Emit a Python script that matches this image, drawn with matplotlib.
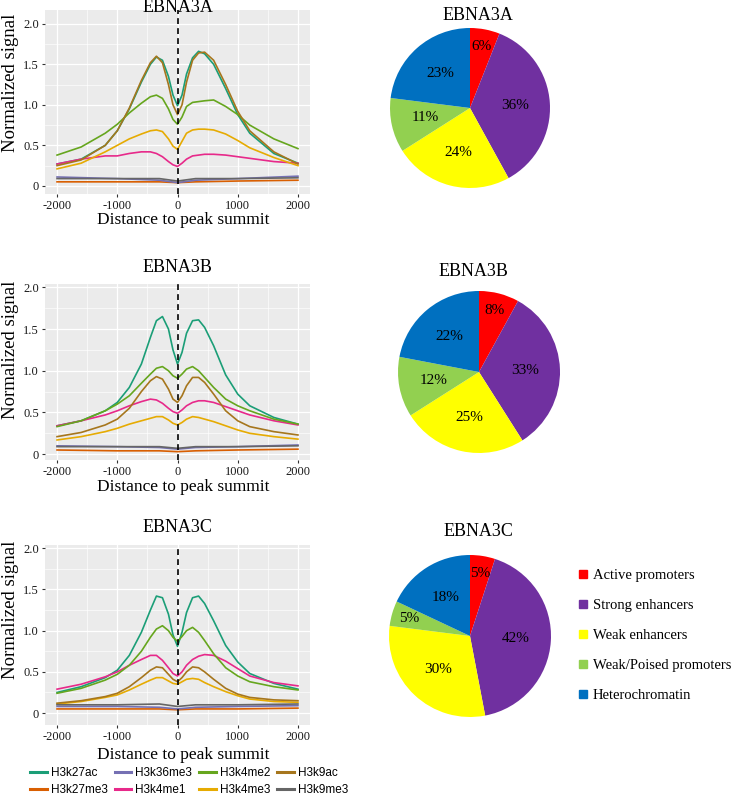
import math
import matplotlib
matplotlib.use("Agg")
import matplotlib.pyplot as plt
from matplotlib.lines import Line2D

W, H = 733, 801
SERIF = "Liberation Serif"
SANS = "Liberation Sans"

# ---- line profiles ----
x = [-2000, -1600, -1200, -1000, -800, -600, -450, -350, -250, -150, -75, 0,
     75, 150, 250, 350, 450, 600, 800, 1000, 1200, 1600, 2000]
x_flat = [-2000, -1000, -300, 0, 300, 1000, 2000]

marks = ["H3k27ac", "H3k27me3", "H3k36me3", "H3k4me1",
         "H3k4me2", "H3k4me3", "H3k9ac", "H3k9me3"]
mark_colors = ["#1B9E77", "#D95F02", "#7570B3", "#E7298A",
               "#66A61E", "#E6AB02", "#A6761D", "#666666"]

# EBNA3A
a_k27ac = [0.27, 0.33, 0.50, 0.68, 0.95, 1.28, 1.50, 1.59, 1.55, 1.35, 1.12, 0.99,
           1.12, 1.38, 1.58, 1.66, 1.63, 1.50, 1.20, 0.88, 0.65, 0.40, 0.28]
a_k9ac = [0.25, 0.32, 0.50, 0.68, 0.96, 1.30, 1.52, 1.60, 1.52, 1.25, 1.00, 0.88,
          1.00, 1.28, 1.55, 1.64, 1.65, 1.55, 1.25, 0.92, 0.68, 0.42, 0.27]
a_k4me2 = [0.38, 0.48, 0.65, 0.76, 0.90, 1.02, 1.10, 1.12, 1.08, 0.95, 0.82, 0.76,
           0.85, 0.98, 1.03, 1.04, 1.05, 1.06, 0.98, 0.88, 0.75, 0.58, 0.46]
a_k4me3 = [0.21, 0.28, 0.42, 0.50, 0.58, 0.64, 0.68, 0.69, 0.67, 0.58, 0.49, 0.45,
           0.55, 0.65, 0.69, 0.70, 0.70, 0.69, 0.64, 0.56, 0.47, 0.35, 0.25]
a_k4me1 = [0.27, 0.33, 0.37, 0.37, 0.40, 0.42, 0.42, 0.40, 0.36, 0.30, 0.26, 0.24,
           0.28, 0.33, 0.37, 0.38, 0.39, 0.39, 0.38, 0.36, 0.34, 0.30, 0.28]
a_k36me3 = [0.11, 0.09, 0.07, 0.04, 0.07, 0.09, 0.12]
a_k9me3 = [0.09, 0.09, 0.09, 0.06, 0.09, 0.09, 0.10]
a_k27me3 = [0.05, 0.05, 0.05, 0.04, 0.05, 0.06, 0.07]

# EBNA3B
b_k27ac = [0.34, 0.40, 0.52, 0.62, 0.80, 1.08, 1.40, 1.60, 1.65, 1.50, 1.25, 1.08,
           1.22, 1.45, 1.60, 1.61, 1.52, 1.30, 0.95, 0.72, 0.58, 0.44, 0.36]
b_k4me2 = [0.33, 0.40, 0.52, 0.60, 0.70, 0.85, 0.96, 1.03, 1.05, 1.00, 0.94, 0.91,
           0.96, 1.02, 1.05, 1.00, 0.92, 0.80, 0.66, 0.58, 0.52, 0.42, 0.36]
b_k9ac = [0.21, 0.26, 0.35, 0.42, 0.55, 0.75, 0.88, 0.93, 0.90, 0.78, 0.66, 0.62,
          0.70, 0.82, 0.92, 0.92, 0.86, 0.72, 0.52, 0.40, 0.33, 0.27, 0.23]
b_k4me1 = [0.34, 0.40, 0.47, 0.52, 0.58, 0.63, 0.66, 0.65, 0.61, 0.55, 0.51, 0.49,
           0.53, 0.58, 0.62, 0.64, 0.64, 0.62, 0.57, 0.52, 0.47, 0.40, 0.35]
b_k4me3 = [0.17, 0.21, 0.27, 0.31, 0.36, 0.40, 0.43, 0.45, 0.45, 0.41, 0.37, 0.35,
           0.38, 0.42, 0.45, 0.44, 0.42, 0.39, 0.34, 0.29, 0.25, 0.21, 0.18]
b_k36me3 = [0.10, 0.09, 0.08, 0.06, 0.08, 0.09, 0.11]
b_k9me3 = [0.09, 0.09, 0.09, 0.07, 0.09, 0.09, 0.10]
b_k27me3 = [0.05, 0.04, 0.04, 0.03, 0.04, 0.05, 0.06]

# EBNA3C
c_k27ac = [0.25, 0.32, 0.43, 0.52, 0.70, 0.98, 1.25, 1.42, 1.40, 1.20, 0.95, 0.81,
           0.98, 1.22, 1.40, 1.42, 1.33, 1.12, 0.82, 0.62, 0.48, 0.36, 0.29]
c_k4me2 = [0.24, 0.30, 0.40, 0.47, 0.58, 0.75, 0.92, 1.02, 1.06, 1.00, 0.92, 0.87,
           0.93, 1.00, 1.04, 0.98, 0.88, 0.72, 0.55, 0.45, 0.38, 0.32, 0.28]
c_k4me1 = [0.29, 0.35, 0.44, 0.50, 0.58, 0.65, 0.70, 0.70, 0.64, 0.55, 0.48, 0.45,
           0.50, 0.58, 0.65, 0.69, 0.71, 0.70, 0.63, 0.54, 0.45, 0.37, 0.33]
c_k9ac = [0.12, 0.15, 0.20, 0.24, 0.32, 0.43, 0.52, 0.56, 0.55, 0.47, 0.41, 0.38,
          0.43, 0.50, 0.56, 0.55, 0.50, 0.41, 0.30, 0.23, 0.19, 0.16, 0.15]
c_k4me3 = [0.11, 0.14, 0.19, 0.22, 0.28, 0.35, 0.40, 0.43, 0.43, 0.39, 0.36, 0.35,
           0.38, 0.41, 0.42, 0.41, 0.37, 0.32, 0.26, 0.21, 0.17, 0.14, 0.13]
c_k36me3 = [0.08, 0.08, 0.07, 0.05, 0.07, 0.08, 0.09]
c_k9me3 = [0.10, 0.10, 0.11, 0.08, 0.10, 0.10, 0.11]
c_k27me3 = [0.05, 0.05, 0.05, 0.04, 0.05, 0.05, 0.06]

# ---- pies ----
states = ["Active promoters", "Strong enhancers", "Weak enhancers",
          "Weak/Poised promoters", "Heterochromatin"]
state_colors = ["#FF0000", "#7030A0", "#FFFF00", "#92D050", "#0070C0"]
pie_a = [6, 36, 24, 11, 23]
pie_b = [8, 33, 25, 12, 22]
pie_c = [5, 42, 30, 5, 18]

titles = ["EBNA3A", "EBNA3B", "EBNA3C"]


def box(l, t, r, b):
    return [l / W, 1 - b / H, (r - l) / W, (b - t) / H]


fig = plt.figure(figsize=(W / 100, H / 100), dpi=100)

panels = [
    dict(rect=(45, 10, 310, 194), ylim=(-0.1, 2.17), title_y=7,
         xlab_y=220, ylab_y=83,
         curves=[a_k27ac, a_k27me3, a_k36me3, a_k4me1, a_k4me2, a_k4me3, a_k9ac, a_k9me3]),
    dict(rect=(45, 284, 310, 460), ylim=(-0.07, 2.04), title_y=268,
         xlab_y=487, ylab_y=350,
         curves=[b_k27ac, b_k27me3, b_k36me3, b_k4me1, b_k4me2, b_k4me3, b_k9ac, b_k9me3]),
    dict(rect=(45, 545, 310, 725), ylim=(-0.145, 2.04), title_y=527,
         xlab_y=755, ylab_y=610,
         curves=[c_k27ac, c_k27me3, c_k36me3, c_k4me1, c_k4me2, c_k4me3, c_k9ac, c_k9me3]),
]

for title, p in zip(titles, panels):
    ax = fig.add_axes(box(*p["rect"]))
    ax.set_facecolor("#EBEBEB")
    for s in ax.spines.values():
        s.set_visible(False)
    ax.set_xlim(-2200, 2200)
    ax.set_ylim(*p["ylim"])
    ax.set_xticks([-2000, -1000, 0, 1000, 2000])
    ax.set_xticklabels(["-2000", "-1000", "0", "1000", "2000"])
    ax.set_yticks([0, 0.5, 1.0, 1.5, 2.0])
    ax.set_yticklabels(["0", "0.5", "1.0", "1.5", "2.0"])
    ax.set_xticks([-1500, -500, 500, 1500], minor=True)
    ax.set_yticks([0.25, 0.75, 1.25, 1.75], minor=True)
    ax.grid(True, which="major", color="white", lw=0.9)
    ax.grid(True, which="minor", color="white", lw=0.45)
    ax.set_axisbelow(True)
    ax.tick_params(which="major", length=2.5, color="#333333", pad=2,
                   labelsize=9, labelcolor="#1a1a1a")
    ax.tick_params(which="minor", length=0)
    for lab in ax.get_xticklabels() + ax.get_yticklabels():
        lab.set_fontfamily(SERIF)
    for name, col, ys in zip(marks, mark_colors, p["curves"]):
        xs = x if len(ys) == len(x) else x_flat
        ax.plot(xs, ys, color=col, lw=1.2, label=name, solid_joinstyle="round")
    ax.axvline(0, color="black", lw=1.2, ls=(0, (3.5, 2.5)))

    fig.text(177.5 / W, 1 - p["title_y"] / H, title, ha="center", va="center",
             fontsize=13, family=SERIF)
    fig.text(183 / W, 1 - p["xlab_y"] / H, "Distance to peak summit", ha="center",
             va="center", fontsize=12.5, family=SERIF)
    fig.text(11 / W, 1 - p["ylab_y"] / H, "Normalized signal", ha="center",
             va="center", rotation=90, fontsize=13.5, family=SERIF)

# bottom legend for histone marks
handles = [Line2D([], [], color=c, lw=2.2) for c in mark_colors]
fig.legend(handles, marks, loc="upper left", bbox_to_anchor=(30 / W, 1 - 767 / H),
           ncol=4, frameon=False, borderpad=0, borderaxespad=0,
           handlelength=1.4, handletextpad=0.35, columnspacing=0.6,
           labelspacing=0.4, prop={"family": SANS, "size": 8.5})

# pies
pie_geo = [(470, 108, 80, 478, 15), (479, 372, 81, 473, 272), (470, 636, 81, 478, 532)]
for title, vals, (cx, cy, r, tx, ty) in zip(titles, [pie_a, pie_b, pie_c], pie_geo):
    pax = fig.add_axes(box(cx - r, cy - r, cx + r, cy + r))
    wedges, _ = pax.pie(vals, colors=state_colors, startangle=90, counterclock=False,
                        radius=1.0, wedgeprops=dict(linewidth=0))
    for w, v in zip(wedges, vals):
        ang = math.radians((w.theta1 + w.theta2) / 2)
        d = 0.78 if v < 10 else 0.57
        pax.text(d * math.cos(ang), d * math.sin(ang), f"{v}%", ha="center",
                 va="center", fontsize=11, family=SERIF)
    pax.set_xlim(-1, 1)
    pax.set_ylim(-1, 1)
    pax.set_aspect("equal")
    pax.axis("off")
    fig.text(tx / W, 1 - ty / H, title, ha="center", va="center", fontsize=13,
             family=SERIF)

# legend for chromatin states
sq = [Line2D([], [], ls="none", marker="s", markersize=5.5, color=c) for c in state_colors]
fig.legend(sq, states, loc="upper left", bbox_to_anchor=(579 / W, 1 - 569 / H),
           frameon=False, borderpad=0, borderaxespad=0, handlelength=0.6,
           handletextpad=0.35, labelspacing=1.15, prop={"family": SERIF, "size": 10.5})

fig.savefig("out.png", dpi=100)
